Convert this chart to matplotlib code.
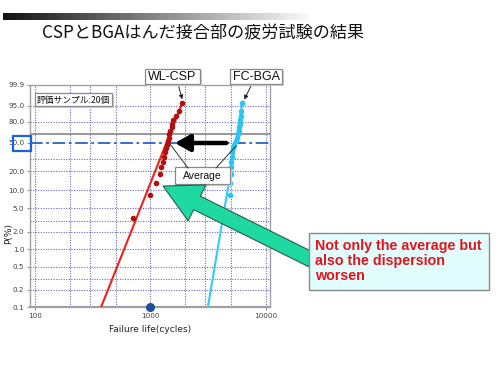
import numpy as np
import matplotlib
matplotlib.use("Agg")
import matplotlib.pyplot as plt
from matplotlib.patches import Rectangle, FancyArrow
from matplotlib.ticker import FixedLocator, NullLocator, NullFormatter

# ---------------- data ----------------
# cumulative failure probability (%) - median ranks for 20 samples
prob_pct = [3.43, 8.33, 13.24, 18.14, 23.04, 27.94, 32.84, 37.75, 42.65, 47.55,
            52.45, 57.35, 62.25, 67.16, 72.06, 76.96, 81.86, 86.76, 91.67, 96.57]
wlcsp_life = [702, 994, 1121, 1198, 1246, 1272, 1311, 1337, 1369, 1392,
              1413, 1443, 1448, 1484, 1523, 1538, 1569, 1650, 1752, 1887]
fcbga_life = [4767, 4864, 4931, 4962, 5029, 5041, 5093, 5133, 5195, 5301,
              5483, 5618, 5743, 5859, 5919, 5967, 6026, 6122, 6148, 6273]
wlcsp_fit_x = [373, 1890]
wlcsp_fit_p = [0.1, 96.6]
fcbga_fit_x = [3150, 6270]
fcbga_fit_p = [0.1, 96.6]
marker_x = [1000]
marker_p = [0.1]

ytick_vals = [0.1, 0.2, 0.5, 1.0, 2.0, 5.0, 10.0, 20.0, 50.0, 80.0, 95.0, 99.9]
ytick_labels = ["0.1", "0.2", "0.5", "1.0", "2.0", "5.0", "10.0", "20.0", "50.0", "80.0", "95.0", "99.9"]
ygrid_vals = [0.2, 0.3, 0.5, 1, 2, 3, 5, 10, 20, 30, 80, 95]
xtick_vals = [100, 1000, 10000]
xtick_labels = ["100", "1000", "10000"]
xgrid_vals = [100, 200, 300, 500, 1000, 2000, 3000, 5000, 10000]

title = "CSPとBGAはんだ接合部の疲労試験の結果"
note = "Not only the average but\nalso the dispersion\nworsen"

# ---------------- figure ----------------
W, H = 500, 369
fig = plt.figure(figsize=(W / 100, H / 100), dpi=100)
fig.patch.set_facecolor("white")
jp = ["Noto Sans CJK JP", "DejaVu Sans"]


def fwd(p):
    p = np.clip(np.asarray(p, dtype=float), 1e-7, 100 - 1e-7)
    return np.log(-np.log(1 - p / 100.0))


def inv(z):
    z = np.asarray(z, dtype=float)
    return 100.0 * (1 - np.exp(-np.exp(z)))


ax = fig.add_axes([30 / W, 1 - 307 / H, 240 / W, (307 - 85) / H])
ax.set_xscale("log")
ax.set_yscale("function", functions=(fwd, inv))
ax.set_xlim(90, 10900)
ax.set_ylim(0.1, 99.9)

gcol = "#6a6ab8"
for gx in xgrid_vals:
    ax.axvline(gx, color=gcol, lw=0.8, ls=(0, (1, 1.3)), zorder=1)
for gy in ygrid_vals:
    ax.axhline(gy, color=gcol, lw=0.8, ls=(0, (1, 1.3)), zorder=1)
ax.axhline(63.2, color="#909090", lw=1.3, zorder=1)
ax.axhline(50, color="#2a62c4", lw=1.3, ls=(0, (7, 2, 1.5, 2)), zorder=2)

ax.plot(wlcsp_fit_x, wlcsp_fit_p, color="#e8241c", lw=1.5, zorder=3)
ax.plot(fcbga_fit_x, fcbga_fit_p, color="#33ccf2", lw=1.5, zorder=3)
ax.plot(wlcsp_life, prob_pct, "o", ms=3.0, color="#b01010", mec="#b01010", zorder=4)
ax.plot(fcbga_life, prob_pct, "o", ms=3.0, color="#2ec4f0", mec="#2ec4f0", zorder=4)
ax.plot(marker_x, marker_p, "o", ms=5.5, color="#1f4f9a", zorder=5, clip_on=False)

ax.xaxis.set_major_locator(FixedLocator(xtick_vals))
ax.xaxis.set_minor_locator(NullLocator())
ax.xaxis.set_minor_formatter(NullFormatter())
ax.set_xticklabels(xtick_labels)
ax.yaxis.set_major_locator(FixedLocator(ytick_vals))
ax.yaxis.set_minor_locator(NullLocator())
ax.set_yticklabels(ytick_labels)
ax.tick_params(axis="both", length=2, width=0.6, colors="#777777", labelsize=5.2,
               labelcolor="#444444", pad=2)
for s in ax.spines.values():
    s.set_color("#a0a0a0")
    s.set_linewidth(1.0)
ax.spines["bottom"].set_linewidth(1.6)

ax.set_xlabel("Failure life(cycles)", fontsize=6.5, color="#222222", labelpad=5)

# ---------------- overlay (pixel coords) ----------------
ov = fig.add_axes([0, 0, 1, 1], zorder=10)
ov.axis("off")
ov.patch.set_alpha(0)

# gradient header bar
grad = np.linspace(0, 1, 256)[None, :]
ov.imshow(grad, cmap="gray", extent=(3, 310, 20, 13), aspect="auto", vmin=-0.08, vmax=1.02,
          interpolation="bilinear")
ov.set_xlim(0, W)
ov.set_ylim(H, 0)

ov.text(42, 33, title, fontsize=12.3, family=jp, va="center", ha="left", color="#111111")
ov.text(9, 233, "P(%)", fontsize=6.5, rotation=90, ha="center", va="center", color="#222222")

# series labels
def label_box(x0, y0, x1, y1, txt, fs=8.5, family="Liberation Sans"):
    ov.add_patch(Rectangle((x0 + 1.5, y0 + 1.5), x1 - x0, y1 - y0, fc="#cfcfcf", ec="none"))
    ov.add_patch(Rectangle((x0, y0), x1 - x0, y1 - y0, fc="white", ec="#8a8a8a", lw=0.9))
    ov.text((x0 + x1) / 2, (y0 + y1) / 2 + 0.5, txt, fontsize=fs, ha="center", va="center",
            family=family, color="#111111")

label_box(145, 69, 200, 84, "WL-CSP", fs=9)
label_box(230, 69, 282, 84, "FC-BGA", fs=9)
ov.annotate("", xy=(183, 102), xytext=(178, 84),
            arrowprops=dict(arrowstyle="-|>", lw=0.7, color="#222222", mutation_scale=6))
ov.annotate("", xy=(243, 102), xytext=(252, 84),
            arrowprops=dict(arrowstyle="-|>", lw=0.7, color="#222222", mutation_scale=6))

label_box(35, 93, 112, 106, "評価サンプル:20個", fs=6.3, family=jp)

# 50.0 highlight
ov.add_patch(Rectangle((13, 136), 18, 15, fc="none", ec="#1b63d8", lw=1.6))

# big black arrow
ov.annotate("", xy=(172, 143), xytext=(229, 143),
            arrowprops=dict(arrowstyle="-|>,head_length=0.9,head_width=0.5", lw=3.2,
                            color="black", mutation_scale=10))

# Average box + leader lines
ov.plot([188, 170], [168, 144], color="#333333", lw=0.7)
ov.plot([216, 236], [168, 146], color="#333333", lw=0.7)
label_box(175, 167, 230, 184, "Average", fs=7.5)

# green arrow
ov.add_patch(FancyArrow(312, 260, -149, -74, width=15, head_width=40, head_length=38,
                        length_includes_head=True, fc="#1fd9a3", ec="#2a5a48", lw=0.8))

# note box
ov.add_patch(Rectangle((309, 233), 180, 57, fc="#e2fdfd", ec="#8a8a8a", lw=1.0, zorder=5))
ov.text(315, 261, note, fontsize=10.3, fontweight="bold", color="#e3141c",
        family="Liberation Sans", ha="left", va="center", linespacing=1.12, zorder=6)

fig.savefig("out.png", dpi=100)
